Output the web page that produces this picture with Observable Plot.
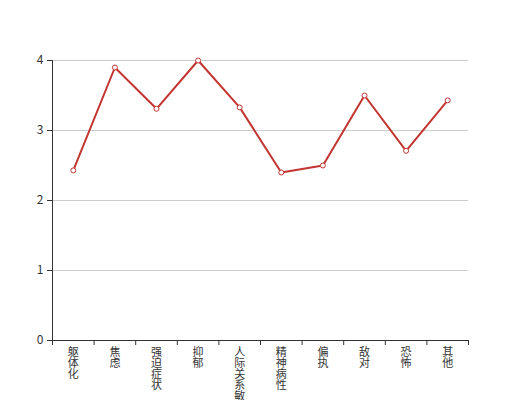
<!DOCTYPE html>
<html>
<head>
<meta charset="utf-8">
<script src="https://cdn.jsdelivr.net/npm/d3@7"></script>
<script src="https://cdn.jsdelivr.net/npm/@observablehq/plot@0.6"></script>
<style>
  html, body { margin: 0; padding: 0; background: #fff; overflow: hidden; }
  #chart { width: 520px; height: 400px; }
</style>
</head>
<body>
<div id="chart"></div>
<script>
const categories = ["躯体化", "焦虑", "强迫症状", "抑郁", "人际关系敏感", "精神病性", "偏执", "敌对", "恐怖", "其他"];
const values = [2.43, 3.9, 3.31, 4.0, 3.33, 2.4, 2.5, 3.5, 2.71, 3.43];
const yTicks = [0, 1, 2, 3, 4];

const data = categories.map((c, i) => ({cat: c, idx: i + 0.5, value: values[i]}));
const boundaries = d3.range(categories.length + 1);

const chart = Plot.plot({
  width: 520,
  height: 400,
  marginLeft: 52,
  marginRight: 52,
  marginTop: 60,
  marginBottom: 60,
  style: {fontFamily: "'Noto Sans CJK SC', 'Noto Sans', sans-serif", fontSize: "12px", color: "#333", background: "#fff", overflow: "visible"},
  x: {type: "linear", domain: [0, categories.length]},
  y: {type: "linear", domain: [0, 4]},
  marks: [
    Plot.gridY(yTicks, {stroke: "#ccc", strokeOpacity: 1}),
    Plot.axisY(yTicks, {tickSize: 5, tickPadding: 4, tickFormat: d => String(d), label: null, fontSize: 12}),
    Plot.ruleX([0], {stroke: "#333"}),
    Plot.ruleY([0], {stroke: "#333"}),
    Plot.axisX(boundaries, {tickSize: 5, tickFormat: () => "", label: null, stroke: "#333"}),
    Plot.text(data, {x: "idx", y: () => 0, text: d => d.cat.split("").join("\n"), lineAnchor: "top", dy: 8, lineHeight: 1, fontSize: 11, fill: "#333"}),
    Plot.line(data, {x: "idx", y: "value", stroke: "#c23531", strokeWidth: 2}),
    Plot.dot(data, {x: "idx", y: "value", r: 2.5, fill: "#fff", stroke: "#c23531", strokeWidth: 1})
  ]
});
document.getElementById("chart").appendChild(chart);
</script>
</body>
</html>
